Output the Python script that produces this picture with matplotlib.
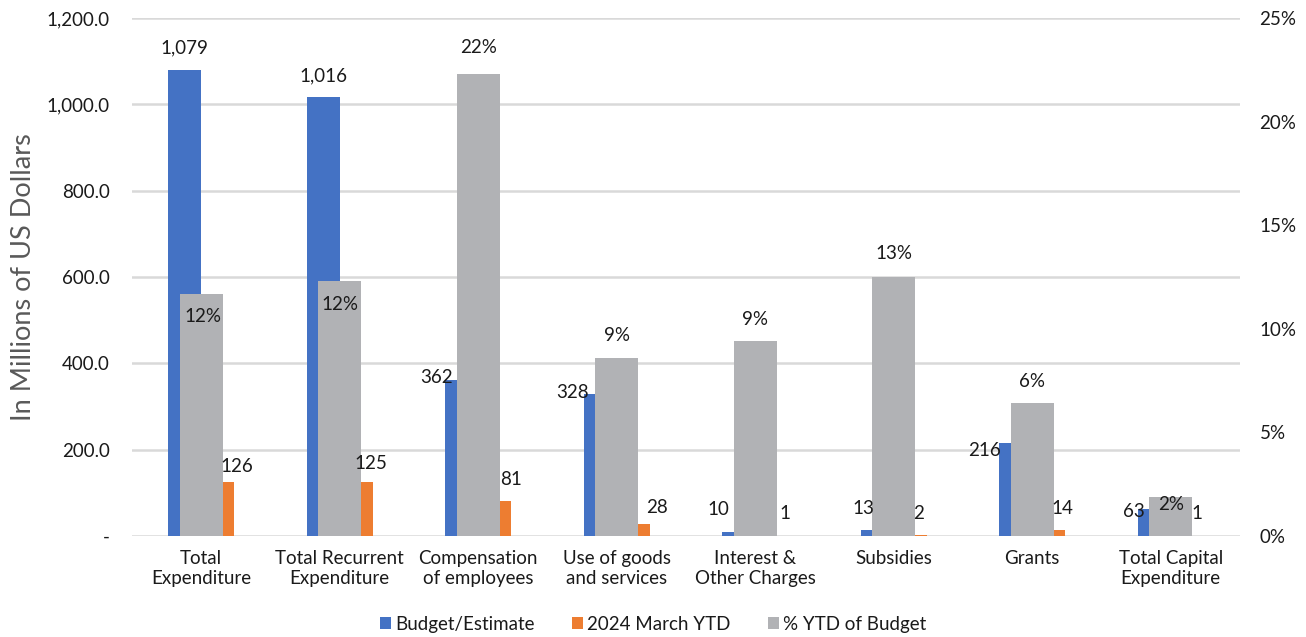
import numpy as np
import matplotlib
matplotlib.use("Agg")
import matplotlib.pyplot as plt
from matplotlib.ticker import FuncFormatter

plt.rcParams['font.family'] = ['Lato', 'DejaVu Sans']

categories = ["Total\nExpenditure", "Total Recurrent\nExpenditure", "Compensation\nof employees",
              "Use of goods\nand services", "Interest &\nOther Charges", "Subsidies",
              "Grants", "Total Capital\nExpenditure"]
budget = [1079, 1016, 362, 328, 10, 13, 216, 63]
ytd = [126, 125, 81, 28, 1, 2, 14, 1]
pct_ytd = [11.7, 12.3, 22.3, 8.6, 9.4, 12.5, 6.4, 1.9]
pct_labels = ["12%", "12%", "22%", "9%", "9%", "13%", "6%", "2%"]

# label offsets in pixels (dx, dy) from bar top centre
budget_off = [(0, 22), (0, 22), (-25, 2), (-28, 2), (-20, 22), (-14, 22), (-31, -8), (-20, -3)]
ytd_off = [(19, 15), (15, 19), (16, 22), (24, 16), (13, 22), (8, 22), (14, 21), (10, 22)]
pct_off = [(2, -23), (0, -23), (0, 26), (0, 22), (0, 22), (0, 23), (0, 22), (0, -8)]

blue = "#4472C4"
orange = "#ED7D31"
gray = "#B1B2B5"
txt = "#1a1a1a"
fs = 13.5

fig = plt.figure(figsize=(13.06, 6.37), dpi=100)
ax = fig.add_axes([0.1011, 0.1586, 0.8484, 0.8131])
ax2 = ax.twinx()

x = np.arange(len(categories))
w = 0.238
b1 = ax.bar(x - w / 2, budget, w, color=blue, zorder=2)
b2 = ax.bar(x + w / 2, ytd, w, color=orange, zorder=2)
b3 = ax2.bar(x, pct_ytd, 0.31, color=gray, zorder=2)

ax.set_xlim(-0.5, len(categories) - 0.5)
ax.set_ylim(0, 1200)
ax2.set_ylim(0, 25)
ax.set_yticks(np.arange(0, 1201, 200))
ax.yaxis.set_major_formatter(FuncFormatter(lambda v, p: "-" if v == 0 else f"{v:,.1f}"))
ax2.set_yticks(np.arange(0, 26, 5))
ax2.yaxis.set_major_formatter(FuncFormatter(lambda v, p: f"{v:.0f}%"))

ax.grid(axis='y', color="#d9d9d9", linewidth=1.8, zorder=0)
ax.set_axisbelow(True)
for a in (ax, ax2):
    for s in a.spines.values():
        s.set_visible(False)
    a.tick_params(length=0, labelsize=fs, colors=txt)
ax.tick_params(axis='y', pad=16)
ax2.tick_params(axis='y', pad=14)
ax.tick_params(axis='x', pad=10)
ax.set_xticks(x)
ax.set_xticklabels(categories, fontsize=fs, linespacing=1.25)
ax.set_ylabel("In Millions of US Dollars", fontsize=19.5, color="#595959", labelpad=8)

for i in range(len(categories)):
    ax2.annotate(f"{budget[i]:,}", (x[i] - w / 2, budget[i]), xycoords=ax.transData,
                 xytext=budget_off[i], textcoords='offset pixels', ha='center', va='center',
                 fontsize=fs, color=txt, zorder=5)
    ax2.annotate(f"{ytd[i]:,}", (x[i] + w / 2, ytd[i]), xycoords=ax.transData,
                 xytext=ytd_off[i], textcoords='offset pixels', ha='center', va='center',
                 fontsize=fs, color=txt, zorder=5)
    ax2.annotate(pct_labels[i], (x[i], pct_ytd[i]), xycoords=ax2.transData,
                 xytext=pct_off[i], textcoords='offset pixels', ha='center', va='center',
                 fontsize=fs, color=txt, zorder=5)

fig.legend([b1, b2, b3], ["Budget/Estimate", "2024 March YTD", "% YTD of Budget"],
           loc='lower center', bbox_to_anchor=(0.5, -0.02), ncol=3, frameon=False,
           fontsize=fs, handlelength=0.6, handleheight=0.6, handletextpad=0.2,
           columnspacing=2.0, labelcolor=txt)

fig.savefig("out.png", dpi=100)
